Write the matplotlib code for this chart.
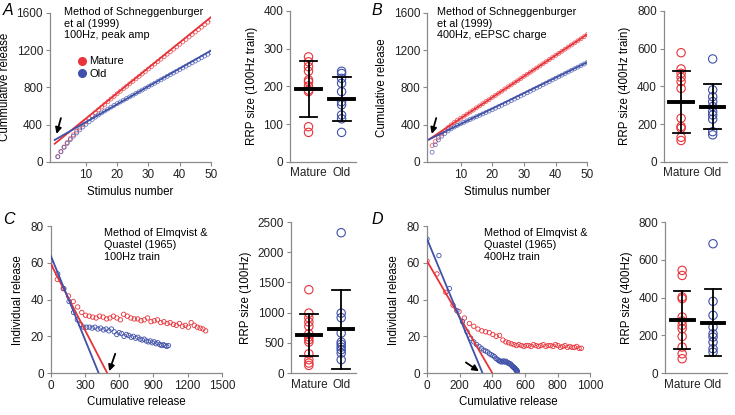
import numpy as np
import matplotlib
matplotlib.use('Agg')
import matplotlib.pyplot as plt
from matplotlib.lines import Line2D

plt.rcParams['font.family'] = ['Liberation Sans', 'DejaVu Sans']

RED = '#e8333a'
BLUE = '#3f51a8'
GREY = '#8a8a8a'

# ---------------- data ----------------
stim = np.arange(1, 51)

# A: 100Hz peak amp, cumulative release
a_mature = [57, 111, 160, 207, 250, 290, 328, 365, 400, 433,
            465, 497, 528, 558, 588, 617, 646, 675, 703, 731,
            758, 785, 811, 838, 864, 891, 917, 944, 970, 997,
            1023, 1050, 1076, 1103, 1129, 1156, 1182, 1209, 1235, 1262,
            1288, 1315, 1341, 1367, 1394, 1420, 1447, 1473, 1499, 1525]
a_old = [55, 108, 155, 198, 238, 275, 310, 343, 374, 403,
         430, 456, 480, 503, 525, 546, 567, 587, 606, 625,
         643, 662, 680, 698, 716, 735, 753, 771, 790, 808,
         826, 844, 863, 881, 899, 918, 936, 954, 972, 991,
         1009, 1027, 1046, 1064, 1082, 1100, 1119, 1137, 1155, 1174]
a_fit_slope = [27.2, 19.2]      # mature, old
a_fit_icept = [194, 235]

# B: 400Hz eEPSC charge
b_mature = [175, 218, 262, 300, 335, 368, 397, 424, 448, 468,
            490, 512, 535, 556, 580, 601, 624, 648, 668, 692,
            714, 737, 759, 782, 806, 827, 850, 872, 895, 918,
            940, 962, 985, 1008, 1030, 1053, 1075, 1098, 1120, 1143,
            1165, 1188, 1210, 1233, 1255, 1278, 1300, 1322, 1345, 1367]
b_old = [104, 183, 236, 275, 305, 332, 354, 374, 392, 408,
         424, 440, 455, 470, 485, 500, 515, 530, 545, 560,
         576, 592, 608, 624, 640, 657, 674, 691, 708, 725,
         742, 759, 776, 793, 810, 828, 845, 862, 880, 897,
         914, 931, 948, 966, 983, 1000, 1017, 1034, 1051, 1068]
b_fit_slope = [22.6, 16.6]
b_fit_icept = [240, 240]

# C: Elmqvist & Quastel, 100Hz (individual release per stimulus)
c_mature = [58, 51, 46, 42, 39, 36, 33, 31.5, 31, 30.5,
            30, 31, 30.5, 29.5, 30, 31, 30, 29, 32, 31,
            30, 29.5, 29.5, 28.5, 29, 30, 28, 28.5, 29, 27.5,
            28, 27, 27.5, 26.5, 26, 27, 25.5, 26, 25, 27.5,
            26, 25, 24.5, 24, 23]
c_old = [61, 54, 46, 39, 33, 29, 26.5, 25, 25, 25,
         24.5, 25, 24, 24.5, 23.5, 24, 23, 24, 22.5, 21,
         22, 21.5, 20, 21, 20.5, 19.5, 20, 19, 19.5, 18.5,
         18, 18.5, 17.5, 17, 17.5, 16.5, 17, 16, 16.5, 15.5,
         15, 15.5, 15, 14.5, 15]
c_icept = [59.5, 64]            # y intercept of fit
c_rrp = [495, 420]              # x intercept of fit (RRP)

# D: Elmqvist & Quastel, 400Hz
d_mature = [61, 54, 44, 37, 33.5, 30, 27, 25.5, 24, 23,
            22.5, 22, 21, 20, 20.5, 18, 17, 16.5, 16, 15.5,
            15, 15.5, 15, 14.5, 15, 15, 14.5, 15.5, 15, 14.5,
            15, 15.5, 14.5, 15, 15, 14.5, 15.5, 15, 14, 14.5,
            15, 14, 14.5, 14, 14, 14.5, 13.5, 13.5]
d_old = [73, 64, 46, 34, 28, 22.5, 19, 17, 15.5, 14.5,
         13.5, 12.5, 12, 11.5, 10.5, 10, 9.5, 9, 8, 7.5,
         7, 6.5, 6.5, 6, 6.5, 6.5, 6, 6.5, 6, 5.5,
         5.5, 5, 5, 4.5, 4, 3.5, 3.5, 3, 3, 2.5,
         2.5, 2, 2, 1.5, 1.5, 1.5, 1, 1, 1]
d_icept = [61, 73]
d_rrp = [400, 340]

# RRP size scatter panels: (mature, old), mean, error (low, high)
rrp_a = ([278, 265, 252, 240, 217, 212, 201, 190, 186, 93, 78],
         [240, 234, 221, 208, 186, 159, 151, 124, 114, 78])
rrp_a_mean = [192, 166]
rrp_a_err = [(118, 267), (109, 224)]

rrp_b = ([578, 492, 469, 448, 425, 389, 231, 187, 178, 130, 113],
         [545, 381, 345, 319, 293, 266, 248, 226, 160, 143])
rrp_b_mean = [315, 293]
rrp_b_err = [(152, 481), (173, 411)]

rrp_c = ([1380, 993, 916, 845, 773, 651, 596, 552, 513, 320, 221, 166, 127],
         [2323, 993, 916, 662, 513, 475, 430, 386, 331, 221])
rrp_c_mean = [624, 734]
rrp_c_err = [(281, 982), (72, 1380)]

rrp_d = ([544, 517, 403, 394, 297, 276, 253, 235, 194, 138, 102, 76],
         [685, 380, 306, 244, 208, 191, 164, 129, 111])
rrp_d_mean = [283, 267]
rrp_d_err = [(125, 433), (90, 443)]

groups = ['Mature', 'Old']

# ---------------- figure ----------------
fig = plt.figure(figsize=(7.35, 4.15), dpi=100)
FS = 8.3
NOTE_FS = 7.8

def style(ax):
    for s in ['top', 'right']:
        ax.spines[s].set_visible(False)
    for s in ['left', 'bottom']:
        ax.spines[s].set_color(GREY)
        ax.spines[s].set_linewidth(0.9)
    ax.tick_params(colors=GREY, labelcolor='#222222', labelsize=8.5, length=3, width=0.8, pad=2)

def rrp_panel(ax, vals, means, errs, ylim, yticks, ylabel):
    style(ax)
    for i, (v, c) in enumerate(zip(vals, [RED, BLUE])):
        ax.scatter(np.full(len(v), i), v, s=36, facecolors='none', edgecolors=c, linewidths=0.8, zorder=2)
        ax.plot([i - 0.37, i + 0.37], [means[i], means[i]], color='k', lw=2.8, zorder=3)
        lo, hi = errs[i]
        ax.plot([i, i], [lo, hi], color='k', lw=1.3, zorder=3)
        ax.plot([i - 0.27, i + 0.27], [lo, lo], color='k', lw=1.3, zorder=3)
        ax.plot([i - 0.27, i + 0.27], [hi, hi], color='k', lw=1.3, zorder=3)
    ax.set_xlim(-0.55, 1.45)
    ax.set_ylim(*ylim)
    ax.set_yticks(yticks)
    ax.set_xticks([0, 1])
    ax.set_xticklabels(groups)
    ax.tick_params(axis='x', length=0, pad=4)
    ax.set_ylabel(ylabel, fontsize=FS, labelpad=4)

def cum_panel(ax, mature, old, slope, icept, xlim, note, note_x):
    style(ax)
    xs = np.linspace(0, 50, 2)
    for vals, c, k in [(mature, RED, 0), (old, BLUE, 1)]:
        ax.scatter(stim, vals, s=8, facecolors='none', edgecolors=c, linewidths=0.6, alpha=0.75, zorder=2)
        ax.plot(xs, icept[k] + slope[k] * xs, color=c, lw=1.3, zorder=3)
    ax.set_xlim(*xlim)
    ax.set_ylim(0, 1600)
    ax.set_yticks([0, 400, 800, 1200, 1600])
    ax.set_xticks([10, 20, 30, 40, 50])
    ax.set_xlabel('Stimulus number', fontsize=FS, labelpad=4)
    ax.text(note_x, 1.04, note, transform=ax.transAxes, fontsize=NOTE_FS, va='top', ha='left', linespacing=1.2)

def eq_panel(ax, mature, old, icept, rrp, xlim, xticks, note, note_x):
    style(ax)
    for vals, c, k in [(mature, RED, 0), (old, BLUE, 1)]:
        cum = np.concatenate([[0], np.cumsum(vals)[:-1]])
        ax.scatter(cum, vals, s=10, facecolors='none', edgecolors=c, linewidths=0.6, zorder=2)
        ax.plot([0, rrp[k]], [icept[k], 0], color=c, lw=1.3, zorder=3)
    ax.set_xlim(*xlim)
    ax.set_ylim(0, 80)
    ax.set_xticks(xticks)
    ax.set_yticks([0, 20, 40, 60, 80])
    ax.set_xlabel('Cumulative release', fontsize=FS, labelpad=3)
    ax.set_ylabel('Individual release', fontsize=FS, labelpad=5)
    ax.text(note_x, 0.985, note, transform=ax.transAxes, fontsize=NOTE_FS, va='top', ha='left', linespacing=1.2)

arrow = dict(arrowstyle='-|>', color='k', lw=1.3, mutation_scale=9, shrinkA=0, shrinkB=0)

# A
axA = fig.add_axes([0.068, 0.610, 0.219, 0.359])
cum_panel(axA, a_mature, a_old, a_fit_slope, a_fit_icept, (-1.5, 50),
          'Method of Schneggenburger\net al (1999)\n100Hz, peak amp', 0.09)
axA.set_ylabel('Cummulative release', fontsize=FS, labelpad=4)
handles = [Line2D([], [], marker='o', ls='', color=RED, ms=5.5),
           Line2D([], [], marker='o', ls='', color=BLUE, ms=5.5)]
axA.legend(handles, groups, loc='upper left', bbox_to_anchor=(0.12, 0.745), frameon=False,
           fontsize=8, handletextpad=0.1, labelspacing=0.2, borderpad=0, handlelength=1.2)
axA.annotate('', xy=(0.6, 300), xytext=(2.0, 470), arrowprops=arrow)

axA2 = fig.add_axes([0.395, 0.610, 0.090, 0.364])
rrp_panel(axA2, rrp_a, rrp_a_mean, rrp_a_err, (0, 400), [0, 100, 200, 300, 400], 'RRP size (100Hz train)')

# B
axB = fig.add_axes([0.581, 0.610, 0.218, 0.359])
cum_panel(axB, b_mature, b_old, b_fit_slope, b_fit_icept, (-0.6, 50),
          'Method of Schneggenburger\net al (1999)\n400Hz, eEPSC charge', 0.06)
axB.set_ylabel('Cumulative release', fontsize=FS, labelpad=4)
axB.annotate('', xy=(0.9, 300), xytext=(2.3, 470), arrowprops=arrow)

axB2 = fig.add_axes([0.903, 0.610, 0.086, 0.364])
rrp_panel(axB2, rrp_b, rrp_b_mean, rrp_b_err, (0, 800), [0, 200, 400, 600, 800], 'RRP size (400Hz train)')

# C
axC = fig.add_axes([0.069, 0.101, 0.233, 0.354])
eq_panel(axC, c_mature, c_old, c_icept, c_rrp, (0, 1500), [0, 300, 600, 900, 1200, 1500],
         'Method of Elmqvist &\nQuastel (1965)\n100Hz train', 0.31)
axC.annotate('', xy=(512, 1.0), xytext=(565, 10.5), arrowprops=arrow)

axC2 = fig.add_axes([0.396, 0.101, 0.088, 0.364])
rrp_panel(axC2, rrp_c, rrp_c_mean, rrp_c_err, (0, 2500), [0, 500, 1000, 1500, 2000, 2500], 'RRP size (100Hz)')

# D
axD = fig.add_axes([0.581, 0.101, 0.222, 0.354])
eq_panel(axD, d_mature, d_old, d_icept, d_rrp, (0, 1000), [0, 200, 400, 600, 800, 1000],
         'Method of Elmqvist &\nQuastel (1965)\n400Hz train', 0.35)
axD.annotate('', xy=(318, 1.0), xytext=(238, 5.8), arrowprops=arrow)

axD2 = fig.add_axes([0.905, 0.101, 0.084, 0.364])
rrp_panel(axD2, rrp_d, rrp_d_mean, rrp_d_err, (0, 800), [0, 200, 400, 600, 800], 'RRP size (400Hz)')

# panel letters
for lbl, x, y in [('A', 0.004, 0.975), ('B', 0.505, 0.975), ('C', 0.004, 0.47), ('D', 0.505, 0.47)]:
    fig.text(x, y, lbl, fontsize=11.5, style='italic', va='center', ha='left')

fig.savefig('out.png', dpi=100)
